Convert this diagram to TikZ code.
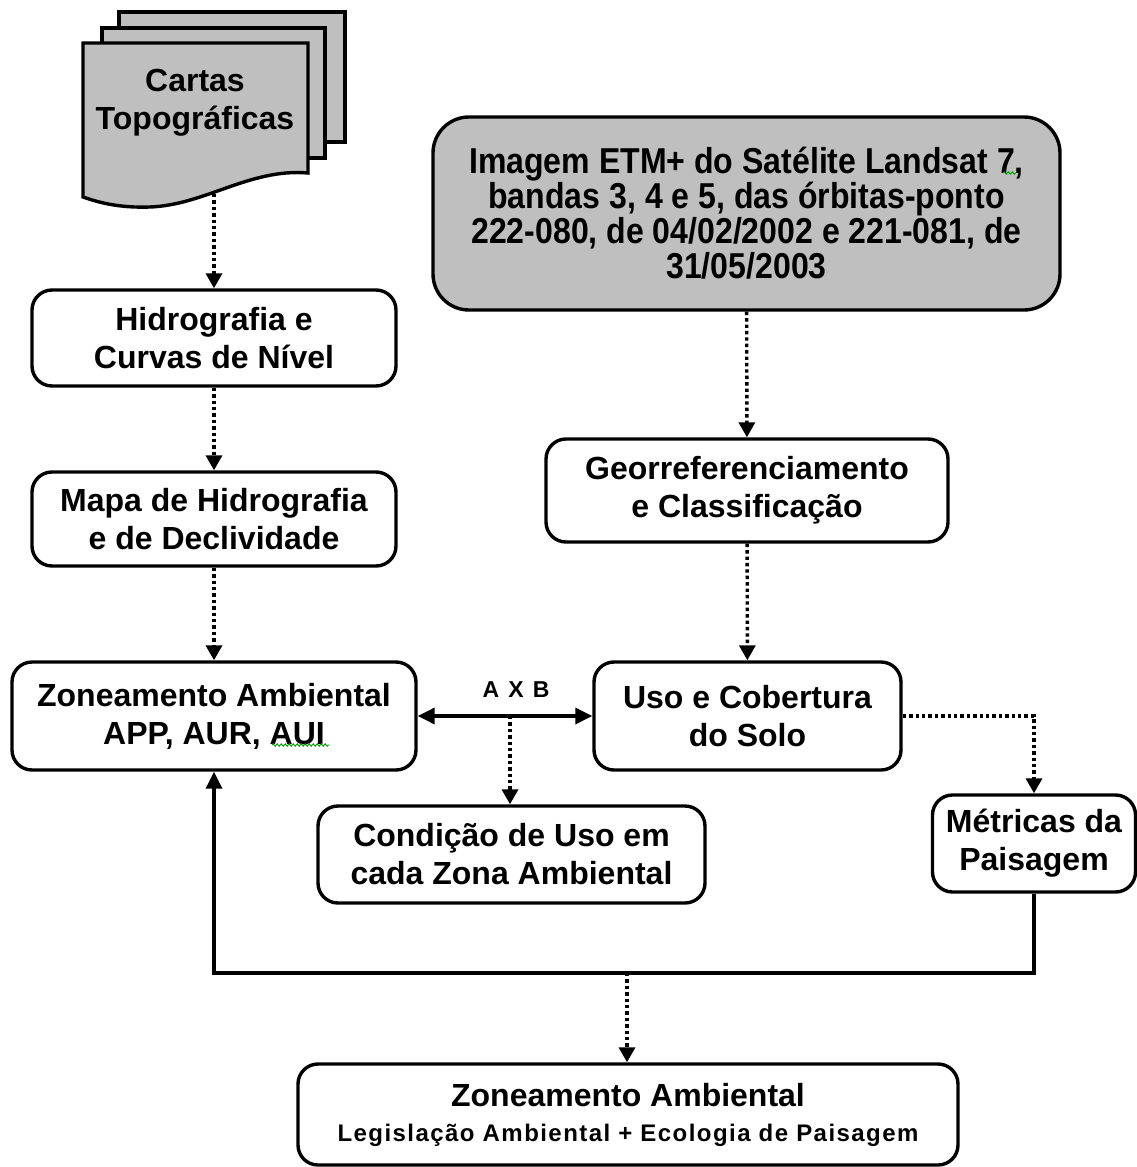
\documentclass[tikz,border=0pt]{standalone}
\usepackage{fontspec}
\setmainfont{Liberation Sans}
\newfontfamily\narrowfont[FakeStretch=0.89]{Liberation Sans}
\newfontfamily\spacedfont[LetterSpace=6]{Liberation Sans}
\newfontfamily\widefont[LetterSpace=12]{Liberation Sans}
\usetikzlibrary{arrows.meta,decorations.pathmorphing}
\tikzset{
  box/.style={draw, line width=3.4pt, rounded corners=20pt, align=center, inner sep=0pt,
    font=\bfseries\fontsize{32}{38}\selectfont},
  dotline/.style={line width=3.4pt, dash pattern=on 3.4pt off 3pt, -{Triangle[width=16pt,length=15pt]}},
  solidline/.style={line width=3.4pt},
  squiggle/.style={draw=green!60!black, line width=0.9pt, decorate, decoration={snake, amplitude=1.2pt, segment length=4pt}}
}
\begin{document}
\begin{tikzpicture}[x=1pt,y=-1pt]
\useasboundingbox (0,0) rectangle (1137,1167);
% document stack
\draw[line width=3.4pt, fill=black!25] (119,12) rectangle (345,142);
\draw[line width=3.4pt, fill=black!25] (102,28) rectangle (325,158);
\draw[line width=3.4pt, fill=black!25, line join=miter] (83,197) -- (83,43) -- (308,43) -- (308,173)
  .. controls (250,168) and (205,205) .. (150,207) .. controls (120,208) and (100,203) .. (83,197) -- cycle;
\node[align=center, font=\bfseries\fontsize{32}{38}\selectfont] (cartas) at (195,103) {Cartas\\Topográficas};
\coordinate (docbot) at (214,194);

\node[box, minimum width=364pt, minimum height=96pt] (hid) at (214,338) {Hidrografia e\\Curvas de Nível};
\node[box, minimum width=364pt, minimum height=94pt] (mapa) at (214,519) {Mapa de Hidrografia\\e de Declividade};
\node[box, minimum width=404pt, minimum height=108pt] (zon) at (214,716) {Zoneamento Ambiental\\APP, AUR, AUI};
\node[box, fill=black!25, rounded corners=36pt, minimum width=627pt, minimum height=193pt,
  font=\narrowfont\bfseries\fontsize{36}{35}\selectfont] (img) at (746.5,213.5)
  {Imagem ETM+ do Satélite Landsat 7,\\bandas 3, 4 e 5, das órbitas-ponto\\222-080, de 04/02/2002 e 221-081, de\\31/05/2003};
\node[box, minimum width=402pt, minimum height=103pt] (geo) at (747,490.5) {Georreferenciamento\\e Classificação};
\node[box, minimum width=307pt, minimum height=108pt] (uso) at (747.5,716) {Uso e Cobertura\\do Solo};
\node[box, minimum width=387pt, minimum height=97pt] (cond) at (511.5,854.5) {Condição de Uso em\\cada Zona Ambiental};
\node[box, minimum width=203pt, minimum height=97pt] (met) at (1034,843.5) {Métricas da\\Paisagem};
\node[box, minimum width=660pt, minimum height=101pt] (bot) at (628,1114.5)
  {Zoneamento Ambiental\\[-3pt]{\spacedfont\fontsize{24}{30}\selectfont Legislação Ambiental + Ecologia de Paisagem}};

% connectors
\draw[dotline] (docbot) -- (hid.north);
\draw[dotline] (hid) -- (mapa);
\draw[dotline] (mapa) -- (zon);
\draw[dotline] (img) -- (geo);
\draw[dotline] (geo) -- (uso);
\draw[solidline, {Triangle[width=16pt,length=17pt]}-{Triangle[width=16pt,length=17pt]}] (zon.east) -- (uso.west);
\node[font=\bfseries\widefont\fontsize{23}{26}\selectfont] (axb) at (516,690) {A X B};
\coordinate (mid) at (510,716);
\draw[dotline] (mid) -- (mid |- cond.north);
\draw[dotline] (uso.east) -| (met.north);
\coordinate (join) at (627,973);
\draw[solidline, -{Triangle[width=16pt,length=17pt]}] (met.south) |- (join) -| (zon.south);
\draw[dotline] (join) -- (join |- bot.north);

% spell-check squiggles
\draw[squiggle] (272,745) -- (329,745);
\draw[squiggle] (1003,173) -- (1016,173);
\end{tikzpicture}
\end{document}
